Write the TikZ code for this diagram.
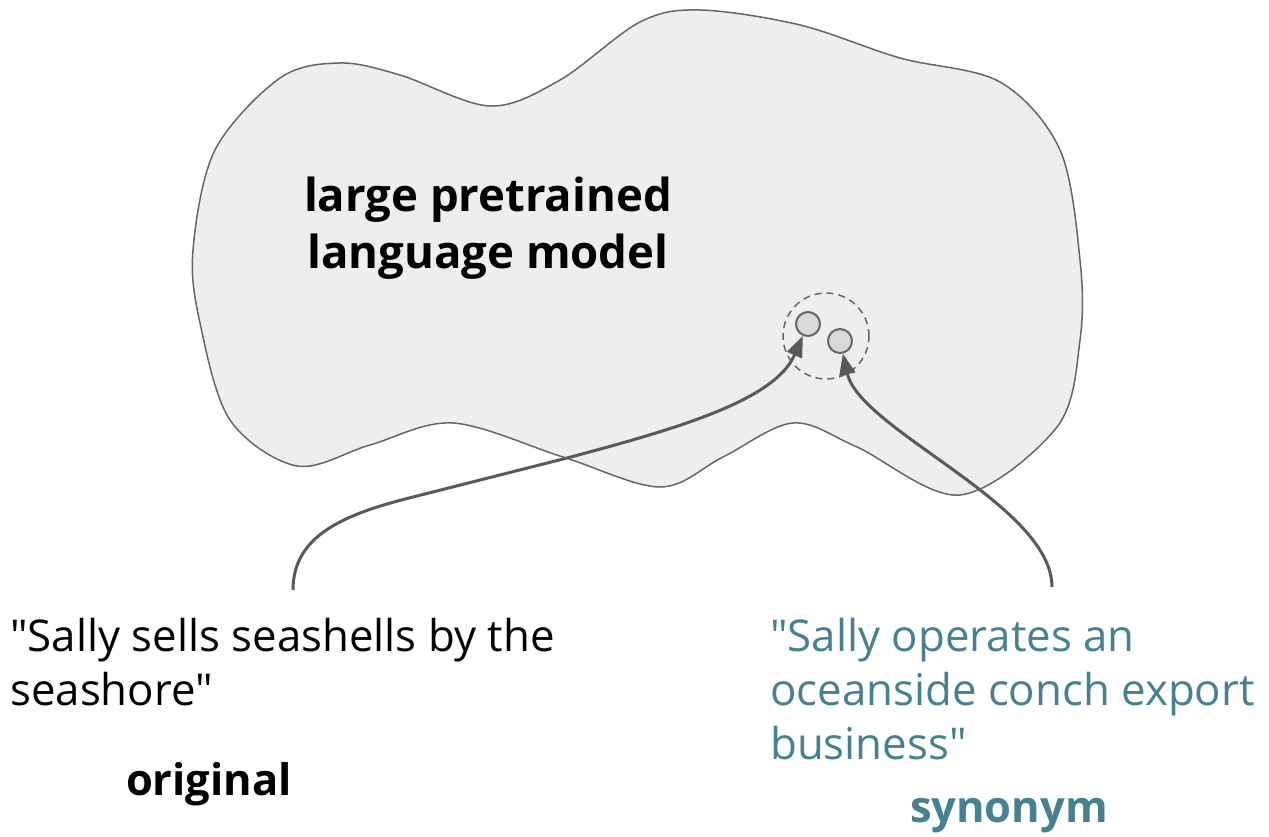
\documentclass[tikz,border=0pt]{standalone}
\usepackage{fontspec}
\setmainfont{Open Sans}[Ligatures=TeXOff]
\usetikzlibrary{arrows.meta}
\definecolor{blobfill}{HTML}{EEEEEE}
\definecolor{edgegray}{HTML}{666666}
\definecolor{dotfill}{HTML}{D9D9D9}
\definecolor{arrowgray}{HTML}{595959}
\definecolor{synteal}{HTML}{45818E}
\tikzset{
  blob/.style={draw=edgegray, fill=blobfill, line width=1.5pt},
  cluster/.style={circle, draw=edgegray, line width=1.5pt, dash pattern=on 7pt off 5pt, minimum size=86pt, inner sep=0pt},
  embdot/.style={circle, draw=edgegray, fill=dotfill, line width=2pt, minimum size=24pt, inner sep=0pt},
  link/.style={draw=arrowgray, line width=3pt, -{Triangle[length=21pt,width=16pt]}},
  title/.style={font=\fontsize{45.5}{56}\selectfont\bfseries, align=center, inner sep=0pt},
  quote/.style={font=\fontsize{43.8}{54}\selectfont, align=left, inner sep=0pt},
  tag/.style={font=\fontsize{43.5}{48}\selectfont\bfseries, inner sep=0pt}
}
\begin{document}
\begin{tikzpicture}[x=1pt,y=-1pt]
\useasboundingbox (0,0) rectangle (1269,837);

% the model's embedding space
\path[blob] plot[smooth cycle, tension=0.55] coordinates {
  (193,250) (215,150) (280,78) (340,63) (400,75) (490,106) (560,80)
  (640,22) (700,10) (800,25) (900,58) (1000,82) (1060,150) (1080,260)
  (1080,340) (1057,427) (960,495) (857,447) (793,423) (723,457)
  (660,487) (563,457) (453,423) (370,445) (297,466) (230,420) (200,323)};

% multi-line nodes are anchored at the baseline of their last line
\node[title, anchor=base] (model) at (488,268) {large pretrained\\language model};

% neighbourhood of the two sentence embeddings
\node[cluster] (near) at (826,336) {};
\node[embdot] (dot1) at (808,324) {};
\node[embdot] (dot2) at (840,341) {};

% sentences
\node[quote, anchor=base west] (orig) at (10,705) {"Sally sells seashells by the\\seashore"};
\node[tag, anchor=base] (origtag) at (209,795) {original};
\node[quote, anchor=base west, text=synteal] (syn) at (770,759) {"Sally operates an\\oceanside conch export\\business"};
\node[tag, anchor=base, text=synteal] (syntag) at (1009,822) {synonym};

% arrows from each sentence to its embedding
\coordinate (s1) at (293,590);
\coordinate (s2) at (1052,587);
\draw[link] (s1) .. controls (293,535) and (345,514) .. (413,497)
  -- (567,458) .. controls (680,428) and (775,400) .. (dot1);
\draw[link] (s2) .. controls (1052,505) and (860,430) .. (dot2);
\end{tikzpicture}
\end{document}
